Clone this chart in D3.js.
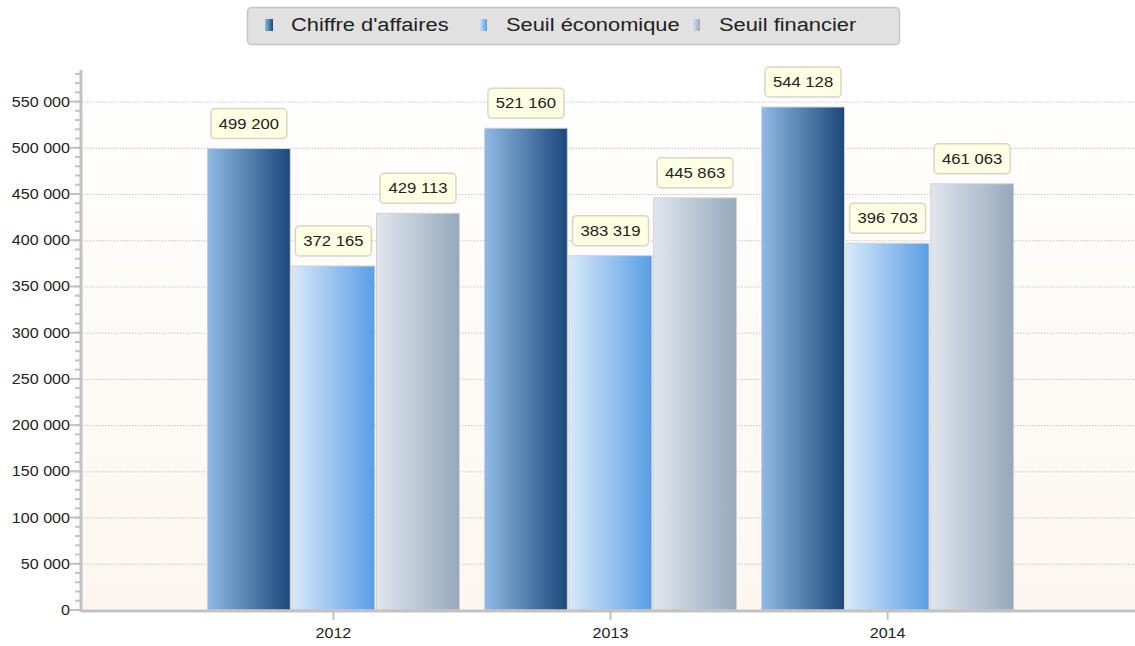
<!DOCTYPE html>
<html>
<head>
<meta charset="utf-8">
<script src="https://cdn.jsdelivr.net/npm/d3@7"></script>
<style>
  html, body { margin: 0; padding: 0; background: #ffffff; }
  svg { display: block; }
  text { font-family: "Liberation Sans", Arial, sans-serif; fill: #222; }
</style>
</head>
<body>
<svg id="chart" width="1135" height="646"></svg>
<script>
// ---- data ----
const years = ["2012", "2013", "2014"];
const seriesNames = ["Chiffre d'affaires", "Seuil économique", "Seuil financier"];
const chiffreAffaires = [499200, 521160, 544128];
const seuilEconomique = [372165, 383319, 396703];
const seuilFinancier = [429113, 445863, 461063];
const yTickValues = [0, 50000, 100000, 150000, 200000, 250000, 300000, 350000, 400000, 450000, 500000, 550000];
const yTickLabels = ["0", "50 000", "100 000", "150 000", "200 000", "250 000", "300 000", "350 000", "400 000", "450 000", "500 000", "550 000"];
const seriesValues = [chiffreAffaires, seuilEconomique, seuilFinancier];

// ---- layout ----
const pLeft = 81, pRight = 1135, pTop = 72, pBottom = 610;
const SX = 1.15; // horizontal text stretch of the original rendering

const svg = d3.select("#chart");
const defs = svg.append("defs");

const grads = [
  ["#8fbae5", "#1b477a"],
  ["#d8e9fa", "#5a9de5"],
  ["#e0e6ed", "#96a8bd"]
];
grads.forEach((g, i) => {
  const lg = defs.append("linearGradient").attr("id", "g" + i)
    .attr("x1", "0").attr("y1", "0").attr("x2", "1").attr("y2", "0");
  lg.append("stop").attr("offset", "0").attr("stop-color", g[0]);
  lg.append("stop").attr("offset", "1").attr("stop-color", g[1]);
});
const bg = defs.append("linearGradient").attr("id", "bg")
  .attr("x1", "0").attr("y1", "0").attr("x2", "0").attr("y2", "1");
bg.append("stop").attr("offset", "0").attr("stop-color", "#ffffff");
bg.append("stop").attr("offset", "1").attr("stop-color", "#fcf6ef");

// scales
const y = d3.scaleLinear().domain([0, 582000]).range([pBottom, pTop]);
const x0 = d3.scalePoint().domain(years).range([pLeft + 3, pRight + 2]).padding(0.9);
const x1 = d3.scaleBand().domain(d3.range(seriesNames.length)).range([-126, 126]).paddingInner(0.02);

function sText(sel, x, yy, txt, anchor, size) {
  return sel.append("text")
    .attr("transform", `translate(${x},${yy}) scale(${SX},1)`)
    .attr("text-anchor", anchor)
    .attr("font-size", size)
    .text(txt);
}

// plot background
svg.append("rect").attr("x", pLeft).attr("y", pTop).attr("width", pRight - pLeft).attr("height", pBottom - pTop)
  .attr("fill", "url(#bg)");

// gridlines
svg.append("g").selectAll("line").data(yTickValues.filter(v => v > 0)).join("line")
  .attr("x1", pLeft).attr("x2", pRight)
  .attr("y1", d => y(d) + 0.5).attr("y2", d => y(d) + 0.5)
  .attr("stroke", "#c6c6c6").attr("stroke-width", 1).attr("stroke-dasharray", "1.5,1.5");

// bars
const groups = svg.append("g").selectAll("g").data(years).join("g")
  .attr("transform", d => `translate(${x0(d)},0)`);
groups.each(function (yr, yi) {
  const g = d3.select(this);
  seriesValues.forEach((vals, si) => {
    const v = vals[yi];
    g.append("rect")
      .attr("x", x1(si)).attr("y", y(v))
      .attr("width", x1.bandwidth()).attr("height", y(0) - y(v))
      .attr("fill", `url(#g${si})`)
      .attr("stroke", "#d2d2d2").attr("stroke-width", 1);
  });
});

// axes
const axisColor = "#c2c2c2";
const minor = d3.range(0, 582000, 10000);
svg.append("g").selectAll("line").data(minor).join("line")
  .attr("x1", pLeft - 6).attr("x2", pLeft)
  .attr("y1", d => y(d)).attr("y2", d => y(d))
  .attr("stroke", axisColor).attr("stroke-width", 2);
svg.append("g").selectAll("line").data(yTickValues).join("line")
  .attr("x1", pLeft - 11).attr("x2", pLeft)
  .attr("y1", d => y(d)).attr("y2", d => y(d))
  .attr("stroke", axisColor).attr("stroke-width", 2);
svg.append("line").attr("x1", pLeft).attr("x2", pLeft).attr("y1", pTop - 2).attr("y2", pBottom + 2)
  .attr("stroke", axisColor).attr("stroke-width", 3);
svg.append("line").attr("x1", pLeft).attr("x2", pRight).attr("y1", pBottom + 1).attr("y2", pBottom + 1)
  .attr("stroke", axisColor).attr("stroke-width", 3);
const yl = svg.append("g");
yTickValues.forEach((v, i) => sText(yl, 70, y(v) + 5, yTickLabels[i], "end", 14).attr("fill", "#333"));

// x ticks
svg.append("g").selectAll("line").data(years).join("line")
  .attr("x1", d => x0(d)).attr("x2", d => x0(d))
  .attr("y1", pBottom + 2).attr("y2", pBottom + 10)
  .attr("stroke", axisColor).attr("stroke-width", 2);
const xl = svg.append("g");
years.forEach(yr => sText(xl, x0(yr), 638, yr, "middle", 14).attr("fill", "#333"));

// value labels
const fmt = v => d3.format(",")(v).replace(/,/g, " ");
const lab = svg.append("g");
years.forEach((yr, yi) => {
  seriesValues.forEach((vals, si) => {
    const v = vals[yi];
    const cx = x0(yr) + x1(si) + x1.bandwidth() / 2;
    const by = y(v) - 10;
    lab.append("rect").attr("x", cx - 38).attr("y", by - 30).attr("width", 76).attr("height", 30)
      .attr("rx", 4).attr("fill", "#ffffe3").attr("stroke", "#d6d6c8").attr("stroke-width", 1.5);
    sText(lab, cx, by - 10, fmt(v), "middle", 14.5).attr("fill", "#222");
  });
});

// legend
const leg = svg.append("g");
leg.append("rect").attr("x", 247.5).attr("y", 7.5).attr("width", 652).attr("height", 37)
  .attr("rx", 4).attr("fill", "#e1e1e1").attr("stroke", "#c4c4c4").attr("stroke-width", 1.5);
const legMarkX = [265, 479, 692];
const legTextX = [291, 506, 719];
seriesNames.forEach((n, i) => {
  leg.append("rect").attr("x", legMarkX[i]).attr("y", 19).attr("width", 8).attr("height", 12)
    .attr("fill", `url(#g${i})`);
  sText(leg, legTextX[i], 31, n, "start", 19).attr("fill", "#222");
});
</script>
</body>
</html>
